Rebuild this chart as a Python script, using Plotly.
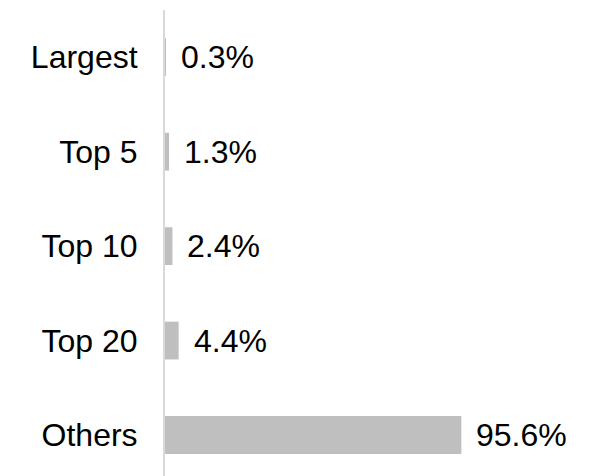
import plotly.graph_objects as go

# Share of total held by the largest holders
categories = ["Largest", "Top 5", "Top 10", "Top 20", "Others"]
shares = [0.3, 1.3, 2.4, 4.4, 95.6]
labels = ["0.3%", "1.3%", "2.4%", "4.4%", "95.6%"]

FONT = "Liberation Sans, Arial, sans-serif"
SIZE = 32

fig = go.Figure(
    go.Bar(
        x=shares,
        y=categories,
        orientation="h",
        width=0.4,
        marker=dict(color="#BFBFBF", line=dict(width=0)),
        hoverinfo="skip",
    )
)

# value labels just right of each bar end
for cat, val, txt in zip(categories, shares, labels):
    fig.add_annotation(
        x=val, y=cat, text=txt, showarrow=False,
        xanchor="left", yanchor="middle", xshift=13,
        font=dict(family=FONT, size=SIZE, color="#000000"),
    )

fig.update_layout(
    width=602, height=476,
    margin=dict(l=165, r=96, t=10, b=0),
    paper_bgcolor="white", plot_bgcolor="white",
    showlegend=False,
    font=dict(family=FONT, size=SIZE, color="#000000"),
    xaxis=dict(range=[0, 110], visible=False, fixedrange=True),
    yaxis=dict(
        type="category",
        categoryorder="array", categoryarray=categories,
        range=[4.434, -0.5],
        showline=True, linecolor="#D9D9D9", linewidth=2,
        showgrid=False, zeroline=False,
        ticks="", ticklabelstandoff=19,
        tickfont=dict(family=FONT, size=SIZE, color="#000000"),
        fixedrange=True,
    ),
)

fig.write_html("out.html")
